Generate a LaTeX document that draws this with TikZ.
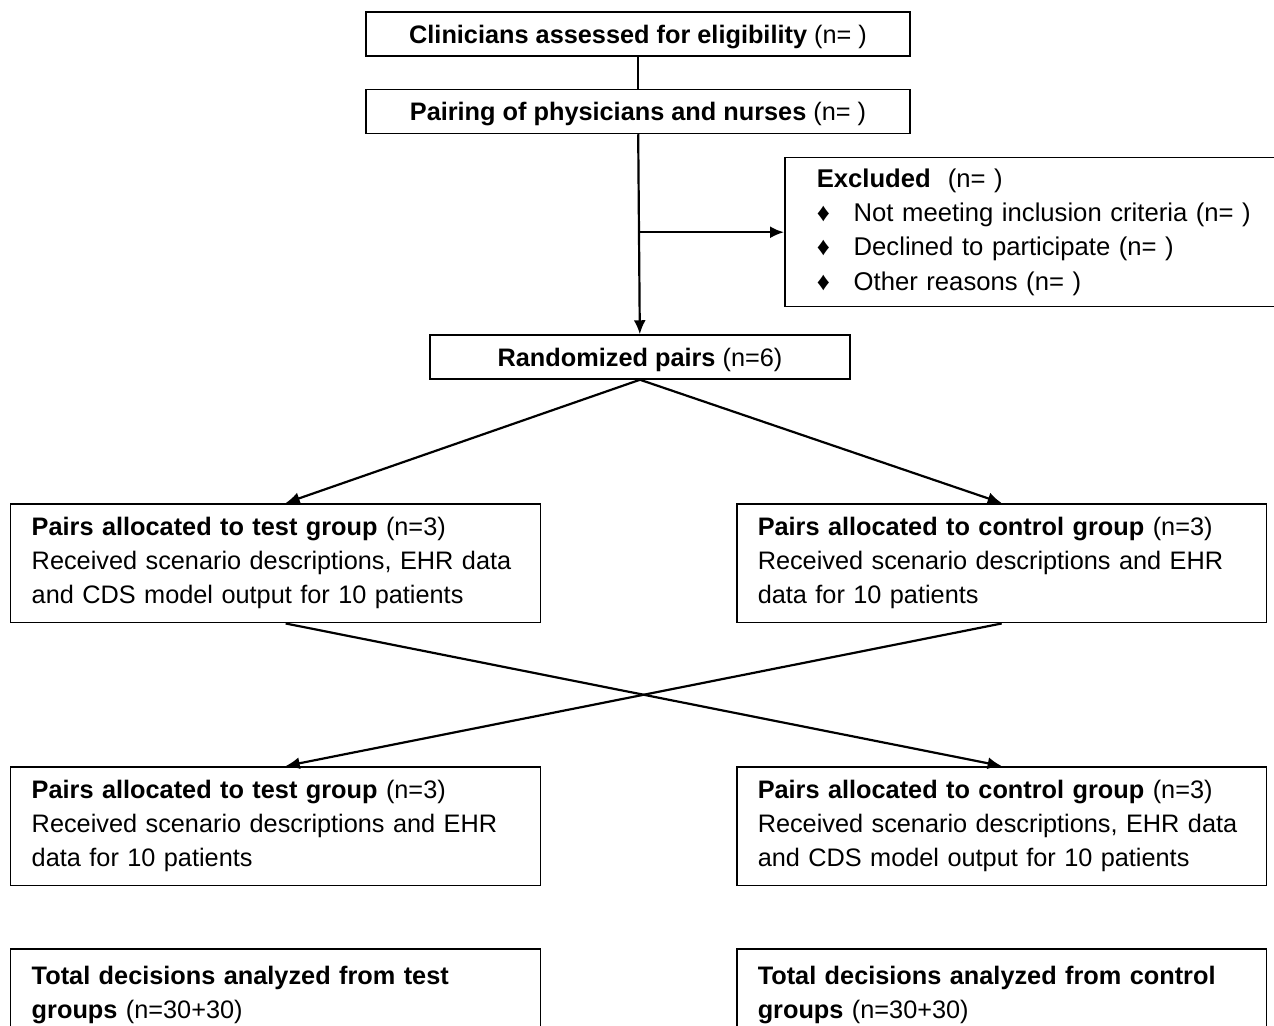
\documentclass[tikz,border=0pt]{standalone}
\usepackage{fontspec}
\setmainfont{Liberation Sans}
\usetikzlibrary{arrows.meta}
\begin{document}
\begin{tikzpicture}[x=0.02cm,y=-0.02cm,>={Latex[length=0.28cm,width=0.24cm]},
  every node/.style={font=\fontsize{14.4}{19.4}\selectfont},
  topbox/.style={draw,line width=0.85pt,minimum width=10.88cm,minimum height=0.88cm,inner sep=0pt,text height=0.44cm,text depth=0.08cm},
  groupbox/.style={draw,line width=0.85pt,anchor=north west,text width=9.76cm,inner xsep=0.42cm,minimum height=2.38cm,align=left},
  totalbox/.style={draw,line width=0.85pt,anchor=north west,text width=9.76cm,inner xsep=0.42cm,inner ysep=0.35cm,align=left},
  exclbox/.style={draw,line width=0.85pt,anchor=north west,text width=9cm,inner xsep=0.64cm,minimum height=2.98cm,align=left,font=\fontsize{14.6}{19.4}\selectfont},
  link/.style={line width=1.25pt}]
\useasboundingbox (0,0) rectangle (1274,1025);
\clip (0,0) rectangle (1274,1025);
\node[topbox] (elig) at (638,34) {\textbf{Clinicians assessed for eligibility} (n= )};
\node[topbox] (pair) at (638,111.5) {\textbf{Pairing of physicians and nurses} (n= )};
\node[exclbox] (excl) at (784,157) {\textbf{Excluded}\ \ (n= )\\
  \makebox[0.74cm][l]{♦}Not meeting inclusion criteria (n= )\\
  \makebox[0.74cm][l]{♦}Declined to participate (n= )\\
  \makebox[0.74cm][l]{♦}Other reasons (n= )};
\node[topbox,minimum width=8.4cm] (rand) at (640,357) {\textbf{Randomized pairs} (n=6)};
\node[groupbox] (testA) at (10,503) {\textbf{Pairs allocated to test group} (n=3)\\
  Received scenario descriptions, EHR data\\ and CDS model output for 10 patients};
\node[groupbox] (ctrlA) at (736,503) {\textbf{Pairs allocated to control group} (n=3)\\
  Received scenario descriptions and EHR\\ data for 10 patients};
\node[groupbox] (testB) at (10,766) {\textbf{Pairs allocated to test group} (n=3)\\
  Received scenario descriptions and EHR\\ data for 10 patients};
\node[groupbox] (ctrlB) at (736,766) {\textbf{Pairs allocated to control group} (n=3)\\
  Received scenario descriptions, EHR data\\ and CDS model output for 10 patients};
\node[totalbox] (totT) at (10,948) {\textbf{Total decisions analyzed from test}\\
  \textbf{groups} (n=30+30)\\[1.2cm]\mbox{}};
\node[totalbox] (totC) at (736,948) {\textbf{Total decisions analyzed from control}\\
  \textbf{groups} (n=30+30)\\[1.2cm]\mbox{}};
\coordinate (split) at (pair.south |- excl.west);
\draw[link] (elig) -- (pair);
\draw[link,->] (pair) -- (rand);
\draw[link,->] (split) -- (excl.west);
\draw[link,->] (rand.south) -- ([xshift=0.2cm]testA.north);
\draw[link,->] (rand.south) -- (ctrlA.north);
\draw[link,->] ([xshift=0.2cm]testA.south) -- (ctrlB.north);
\draw[link,->] (ctrlA.south) -- ([xshift=0.2cm]testB.north);
\end{tikzpicture}
\end{document}
